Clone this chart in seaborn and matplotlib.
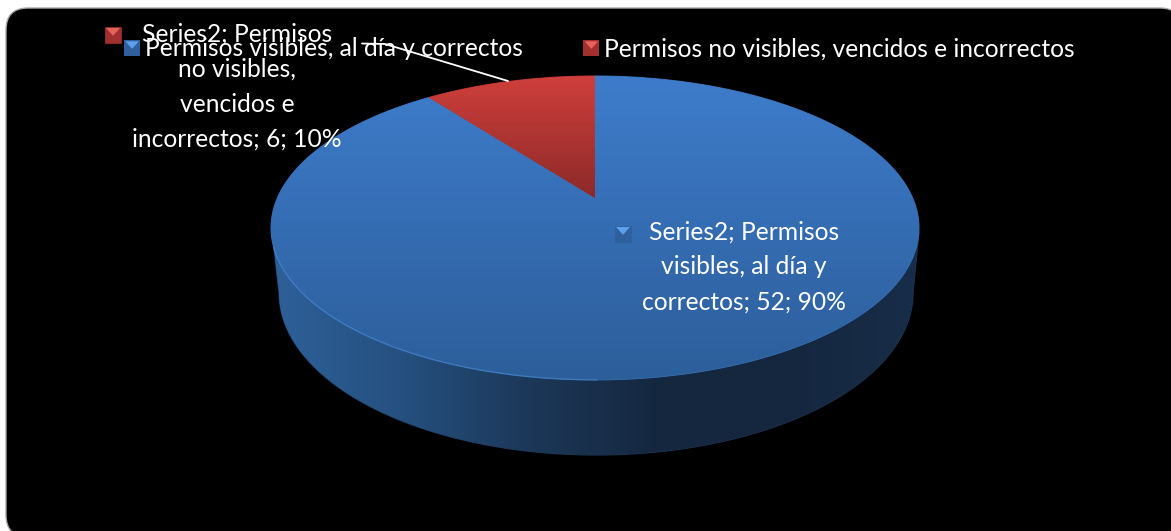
import numpy as np
import matplotlib
matplotlib.use("Agg")
import matplotlib.pyplot as plt
import seaborn as sns
from matplotlib.legend_handler import HandlerBase
from matplotlib.patches import FancyBboxPatch, Polygon, Rectangle
from matplotlib.transforms import Affine2D

categories = ["Permisos no visibles, vencidos e incorrectos", "Permisos visibles, al día y correctos"]
values = [6, 52]
percent_labels = ["10%", "90%"]
series_name = "Series2"

# colores: arriba / abajo del degradado
RED_TOP, RED_MID, RED_BOTTOM = "#cf3f3b", "#ae3432", "#8c2a29"
BLUE_TOP, BLUE_MID, BLUE_BOTTOM = "#3e7ccb", "#356db2", "#2c5e9a"
SIDE_COLORS = ["#2e6099", "#25507f", "#1c3757", "#15273f", "#15273f", "#182d49"]
FONT_SIZE = 17.7


def perspective(points):
    # lleva el circulo unitario de ax.pie a la elipse inclinada del pastel 3D
    k = 0.197
    w = 1 + k * points[:, 1]
    return np.column_stack([595 + 317.6 * points[:, 0] / w, 198 - 146 * points[:, 1] / w])


def gradient(ax, points, colors, base, horizontal=False, zorder=2):
    # imagen con degradado recortada a la forma; debajo va la forma en color liso para tapar el borde
    x0, y0 = points.min(axis=0)
    x1, y1 = points.max(axis=0)
    ramp = np.linspace(0, 1, 256).reshape(-1, 1)
    if horizontal:
        ramp = ramp.T
    patch = Polygon(points, fc=base, ec=base, lw=0.8, zorder=zorder - 0.5)
    ax.add_patch(patch)
    im = ax.imshow(ramp, cmap=sns.blend_palette(colors, as_cmap=True), extent=(x0, x1, y1, y0),
                   aspect="auto", origin="upper", zorder=zorder, interpolation="bilinear")
    im.set_clip_path(patch)


def bevel_square(ax, x, y, size, top, bottom):
    ax.add_patch(Rectangle((x, y), size, size, fc=bottom, ec=bottom, lw=0.5, zorder=5))
    ax.add_patch(Polygon([(x + 1, y + 1), (x + size - 1, y + 1), (x + size / 2, y + size * 0.55)],
                         fc=top, ec="none", zorder=5))


class BevelHandler(HandlerBase):
    def create_artists(self, legend, orig, xd, yd, width, height, fontsize, trans):
        side = min(width, height)
        body = Rectangle((-xd, -yd), side, side, fc=orig.get_edgecolor(), ec="none", transform=trans)
        tip = Polygon([(-xd + 1, -yd + side - 1), (-xd + side - 1, -yd + side - 1), (-xd + side / 2, -yd + side * 0.45)],
                      fc=orig.get_facecolor(), ec="none", transform=trans)
        return [body, tip]


sns.set_theme(style="white")
plt.rcParams["font.family"] = ["Lato", "DejaVu Sans"]

fig = plt.figure(figsize=(11.71, 5.31), dpi=100, facecolor="white")
ax = fig.add_axes([0, 0, 1, 1])

# el pastel se calcula con ax.pie y luego se proyecta
wedges, _ = ax.pie(values, startangle=90, counterclock=True)
shapes = []
for wedge in wedges:
    path = wedge.get_patch_transform().transform_path(wedge.get_path())
    flat = path.transformed(Affine2D().scale(800)).to_polygons()[0] / 800
    shapes.append(perspective(flat))
    wedge.remove()

ax.set_aspect("auto")
ax.set_axis_off()

ax.add_patch(FancyBboxPatch((6, 8), 1176, 529, boxstyle="round,pad=0,rounding_size=22",
                            fc="black", ec="#a8a8a8", lw=1, zorder=0))

# pared lateral
t = np.linspace(np.pi, 0, 200)
bottom_edge = np.column_stack([596 + 317 * np.cos(t), 293 + 162 * np.sin(t)])
side = np.vstack([[(272, 232)], bottom_edge, [(919, 232)]])
gradient(ax, side, SIDE_COLORS, "#1c3757", horizontal=True, zorder=1)

# tapa
gradient(ax, shapes[1], [BLUE_TOP, BLUE_BOTTOM], BLUE_MID, zorder=3)
gradient(ax, shapes[0], [RED_TOP, RED_BOTTOM], RED_MID, zorder=3)

# brillo del borde inferior de la tapa
rim = shapes[1][shapes[1][:, 1] > 245]
rim = rim[np.argsort(rim[:, 0])]
ax.plot(rim[rim[:, 0] < 600, 0], rim[rim[:, 0] < 600, 1], color="#4a8cd6", lw=1.0, alpha=0.55, zorder=4)
ax.plot(rim[rim[:, 0] >= 600, 0], rim[rim[:, 0] >= 600, 1], color="#3a70b0", lw=0.8, alpha=0.35, zorder=4)

# leyenda
handles = [Rectangle((0, 0), 1, 1, fc="#5aa0ec", ec="#2f5f9c"), Rectangle((0, 0), 1, 1, fc="#e8625c", ec="#a12f2d")]
ax.legend(handles, [categories[1], categories[0]], ncol=2, loc="upper left", bbox_to_anchor=(124, 37.5),
          bbox_transform=ax.transData, frameon=False, fontsize=FONT_SIZE, labelcolor="white",
          borderpad=0, borderaxespad=0, handlelength=0.66, handleheight=0.66, handletextpad=0.2,
          columnspacing=2.45, handler_map={Rectangle: BevelHandler()}).set_zorder(5)

# etiquetas de datos
red_label = f"{series_name}; Permisos\nno visibles,\nvencidos e\nincorrectos; {values[0]}; {percent_labels[0]}"
blue_label = f"{series_name}; Permisos\nvisibles, al día y\ncorrectos; {values[1]}; {percent_labels[1]}"
ax.text(237, 87, red_label, color="white", fontsize=FONT_SIZE, ha="center", va="center", linespacing=1.63, zorder=6)
ax.text(744, 267, blue_label, color="white", fontsize=FONT_SIZE, ha="center", va="center", linespacing=1.63, zorder=6)
bevel_square(ax, 105, 27, 16, "#e8625c", "#a12f2d")
bevel_square(ax, 615, 226, 16, "#5aa0ec", "#2f5f9c")

# linea guia
ax.plot([362, 385, 508], [43.5, 44, 81], color="white", lw=1.3, zorder=7)

ax.set_xlim(0, 1171)
ax.set_ylim(531, 0)

fig.savefig("out.png", dpi=100, facecolor="white")
